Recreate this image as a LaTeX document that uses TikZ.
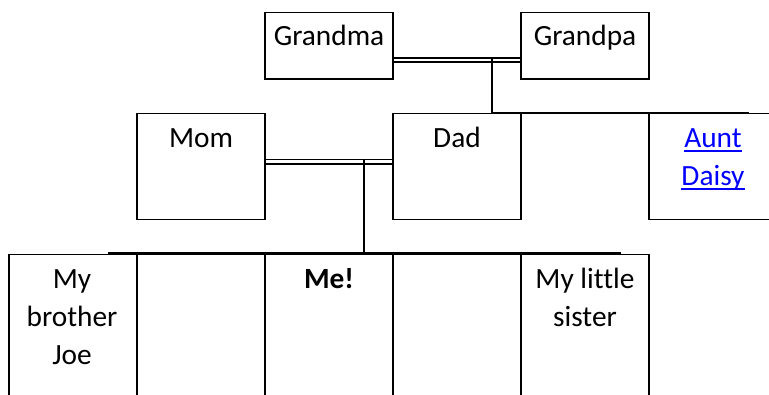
\documentclass[tikz,border=0pt]{standalone}
\usepackage{fontspec}
\setmainfont{Carlito}[Ligatures=CommonOff]
\usetikzlibrary{calc,backgrounds}
\newcommand\hlink[1]{\setbox0\hbox{#1}\rlap{\rule[-3.3pt]{\wd0}{1.5pt}}\box0}
\begin{document}
\begin{tikzpicture}[x=0.75pt,y=-0.75pt,
  box/.style={draw=black, line width=0.8pt, inner sep=0pt, outer sep=0pt, anchor=north west, minimum width=96pt},
  rowA/.style={box, minimum height=50pt},
  rowB/.style={box, minimum height=79.3pt},
  rowC/.style={box, minimum height=150pt},
  txt/.style={anchor=base, align=center, inner sep=0pt, font=\fontsize{22}{28.8}\selectfont},
  dbl/.style={draw=black, double=white, line width=1.25pt, double distance=1.8pt},
  thk/.style={draw=black, line width=1.5pt}]
\useasboundingbox (0,0) rectangle (769,394);
\clip (0,0) rectangle (769,394);
% boxes
\node[rowA] (gm) at (265,12.3) {};
\node[rowA] (gp) at (521,12.3) {};
\node[rowB] (mom) at (137,113.3) {};
\node[rowB] (dad) at (393,113.3) {};
\node[rowB] (aunt) at (649,113.3) {};
\node[rowC] (joe) at (9,254.5) {};
\node[rowC] (e1) at (137,254.5) {};
\node[rowC] (me) at (265,254.5) {};
\node[rowC] (e2) at (393,254.5) {};
\node[rowC] (sis) at (521,254.5) {};
% texts (base anchor = baseline of the last line; one line = 38.4px)
\node[txt] (tgm) at ($(gm.north)+(0,33)$) {Grandma};
\node[txt] (tgp) at ($(gp.north)+(0,33)$) {Grandpa};
\node[txt] (tmom) at ($(mom.north)+(0,34)$) {Mom};
\node[txt] (tdad) at ($(dad.north)+(0,34)$) {Dad};
\node[txt, text=blue] (taunt) at ($(aunt.north)+(0,72.4)$) {\hlink{Aunt}\\\hlink{Daisy}};
\node[txt] (tjoe) at ($(joe.north)+(-1,110.3)$) {My\\brother\\Joe};
\node[txt] (tme) at ($(me.north)+(0,34)$) {\bfseries Me!};
\node[txt] (tsis) at ($(sis.north)+(0,71.9)$) {My little\\sister};
% connectors
\begin{pgfonlayer}{background}
\draw[dbl] ($(gm.east)+(0,14.3)$) -- ($(gp.west)+(0,14.3)$);
\draw[dbl] ($(mom.east)+(0,-4.5)$) -- ($(dad.west)+(0,-4.5)$);
\end{pgfonlayer}
\coordinate (gpj) at (492,58);
\coordinate (gpe) at (749,112.7);
\draw[thk] (gpj) -- (gpj |- gpe) -- (gpe);
\coordinate (mdj) at (364,160);
\coordinate (kl) at (108,253.3);
\coordinate (kr) at (620.7,253.3);
\draw[thk] (mdj) -- (mdj |- kl);
\draw[thk] (kl) -- (kr);
\end{tikzpicture}
\end{document}
